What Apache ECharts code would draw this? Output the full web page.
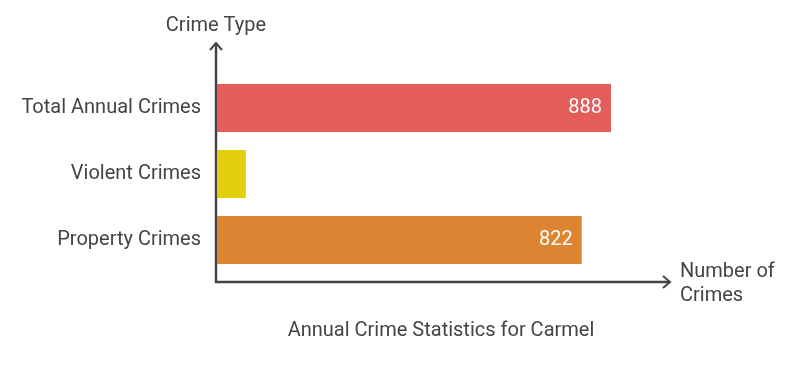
<!DOCTYPE html>
<html>
<head>
<meta charset="utf-8">
<script src="https://cdn.jsdelivr.net/npm/echarts@6/dist/echarts.min.js"></script>
<style>html,body{margin:0;padding:0;background:#fff}#c{width:798px;height:366px}</style>
</head>
<body>
<div id="c"></div>
<script>
const categories = ['Total Annual Crimes', 'Violent Crimes', 'Property Crimes'];
const values = [888, 65, 822];
const colors = ['#E35E5A', '#E2CE0A', '#DC8431'];
const labels = ['888', '', '822'];

const chart = echarts.init(document.getElementById('c'));
const font = 'Roboto, sans-serif';
const txt = '#444';
chart.setOption({
  animation: false,
  grid: { left: 217, top: 75, height: 198, width: 443.7 },
  xAxis: { type: 'value', min: 0, max: 1000, show: false },
  yAxis: {
    type: 'category', data: categories, inverse: true,
    axisLine: { show: false }, axisTick: { show: false },
    axisLabel: { margin: 16, fontSize: 20, color: txt, fontFamily: font, padding: [4, 0, 0, 0] }
  },
  series: [{
    type: 'bar', barWidth: 48,
    data: values.map((v, i) => ({ value: v, itemStyle: { color: colors[i] } })),
    label: {
      show: true, position: 'insideRight', distance: 9, color: '#fff',
      fontSize: 20, fontFamily: font, padding: [3, 0, 0, 0],
      formatter: p => labels[p.dataIndex]
    }
  }],
  graphic: [
    { type: 'polyline', shape: { points: [[216, 43], [216, 282], [670, 282]] },
      style: { stroke: txt, lineWidth: 2.5, fill: null } },
    { type: 'polyline', shape: { points: [[210, 50], [216, 43], [222, 50]] },
      style: { stroke: txt, lineWidth: 2, fill: null } },
    { type: 'polyline', shape: { points: [[663, 276], [670, 282], [663, 288]] },
      style: { stroke: txt, lineWidth: 2, fill: null } },
    { type: 'text', x: 216, y: 26, style: { text: 'Crime Type', fill: txt, font: '20px ' + font, textAlign: 'center', textVerticalAlign: 'middle' } },
    { type: 'text', x: 680, y: 284, style: { text: 'Number of\nCrimes', fill: txt, font: '20px ' + font, lineHeight: 24, textAlign: 'left', textVerticalAlign: 'middle' } },
    { type: 'text', x: 441, y: 331, style: { text: 'Annual Crime Statistics for Carmel', fill: txt, font: '20px ' + font, textAlign: 'center', textVerticalAlign: 'middle' } }
  ]
});
</script>
</body>
</html>
